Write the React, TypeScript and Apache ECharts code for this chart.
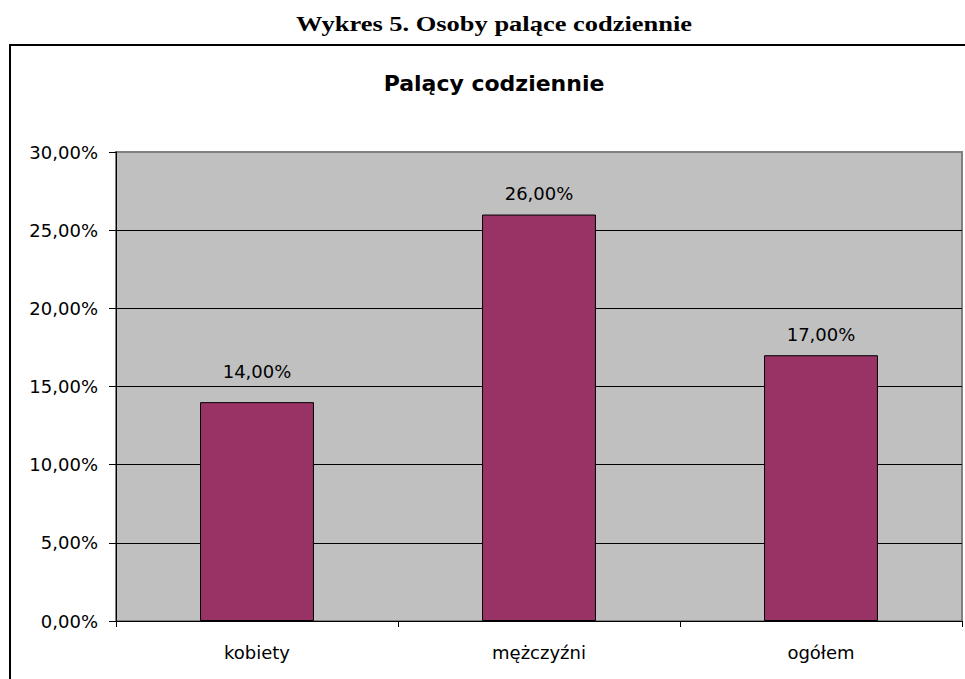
import React, { useEffect, useRef } from "react";
import * as echarts from "echarts";

const pageTitle = "Wykres 5. Osoby palące codziennie";
const chartTitle = "Palący codziennie";
const categories = ["kobiety", "mężczyźni", "ogółem"];
const values = [0.14, 0.26, 0.17];
const yMin = 0;
const yMax = 0.3;
const yInterval = 0.05;

const pct = (v: number) => (v * 100).toFixed(2).replace(".", ",") + "%";

export default function App() {
  const ref = useRef<HTMLDivElement>(null);
  useEffect(() => {
    if (!ref.current) return;
    const chart = echarts.init(ref.current, null, { renderer: "svg" });
    const sans = "'DejaVu Sans', sans-serif";
    const labelDistances = [22, 12, 12];
    chart.setOption({
      animation: false,
      backgroundColor: "#ffffff",
      graphic: [
        {
          type: "polyline",
          shape: { points: [[10, 690], [10, 45], [980, 45]] },
          style: { stroke: "#000", lineWidth: 2, fill: "none" },
          silent: true,
        },
        {
          type: "text",
          x: 494,
          y: 23.7,
          scaleX: 1.26,
          style: {
            text: pageTitle,
            font: "bold 21px 'Liberation Serif', 'Times New Roman', serif",
            fill: "#000",
            textAlign: "center",
            textVerticalAlign: "middle",
          },
        },
        {
          type: "text",
          x: 494,
          y: 83.4,
          style: {
            text: chartTitle,
            font: "bold 22px " + sans,
            fill: "#000",
            textAlign: "center",
            textVerticalAlign: "middle",
          },
        },
      ],
      grid: {
        left: 116,
        top: 152,
        right: 3,
        bottom: 58,
        show: true,
        backgroundColor: "#C0C0C0",
        borderColor: "#808080",
        borderWidth: 2,
      },
      xAxis: {
        type: "category",
        data: categories,
        boundaryGap: true,
        axisLine: { show: true, lineStyle: { color: "#000", width: 1 } },
        axisTick: { show: true, length: 6, lineStyle: { color: "#000" } },
        axisLabel: { color: "#000", fontSize: 18, fontFamily: sans, margin: 22 },
        splitLine: { show: false },
      },
      yAxis: {
        type: "value",
        min: yMin,
        max: yMax,
        interval: yInterval,
        axisLine: { show: true, lineStyle: { color: "#000", width: 1 } },
        axisTick: { show: true, length: 7, lineStyle: { color: "#000" } },
        axisLabel: {
          color: "#000",
          fontSize: 18,
          fontFamily: sans,
          margin: 18,
          formatter: (v: number) => pct(v),
        },
        splitLine: {
          show: true,
          showMaxLine: false,
          lineStyle: { color: "#000", width: 1 },
        },
      },
      series: [
        {
          type: "bar",
          data: values.map((v, i) => ({
            value: v,
            label: { distance: labelDistances[i] },
          })),
          barWidth: "40.4%",
          itemStyle: { color: "#993366", borderColor: "#000", borderWidth: 1 },
          label: {
            show: true,
            position: "top",
            color: "#000",
            fontSize: 18,
            fontFamily: sans,
            formatter: (p: any) => pct(p.value),
          },
        },
      ],
    });
    return () => chart.dispose();
  }, []);
  return (
    <div
      ref={ref}
      style={{ position: "absolute", left: 0, top: 0, width: 965, height: 679 }}
    />
  );
}
